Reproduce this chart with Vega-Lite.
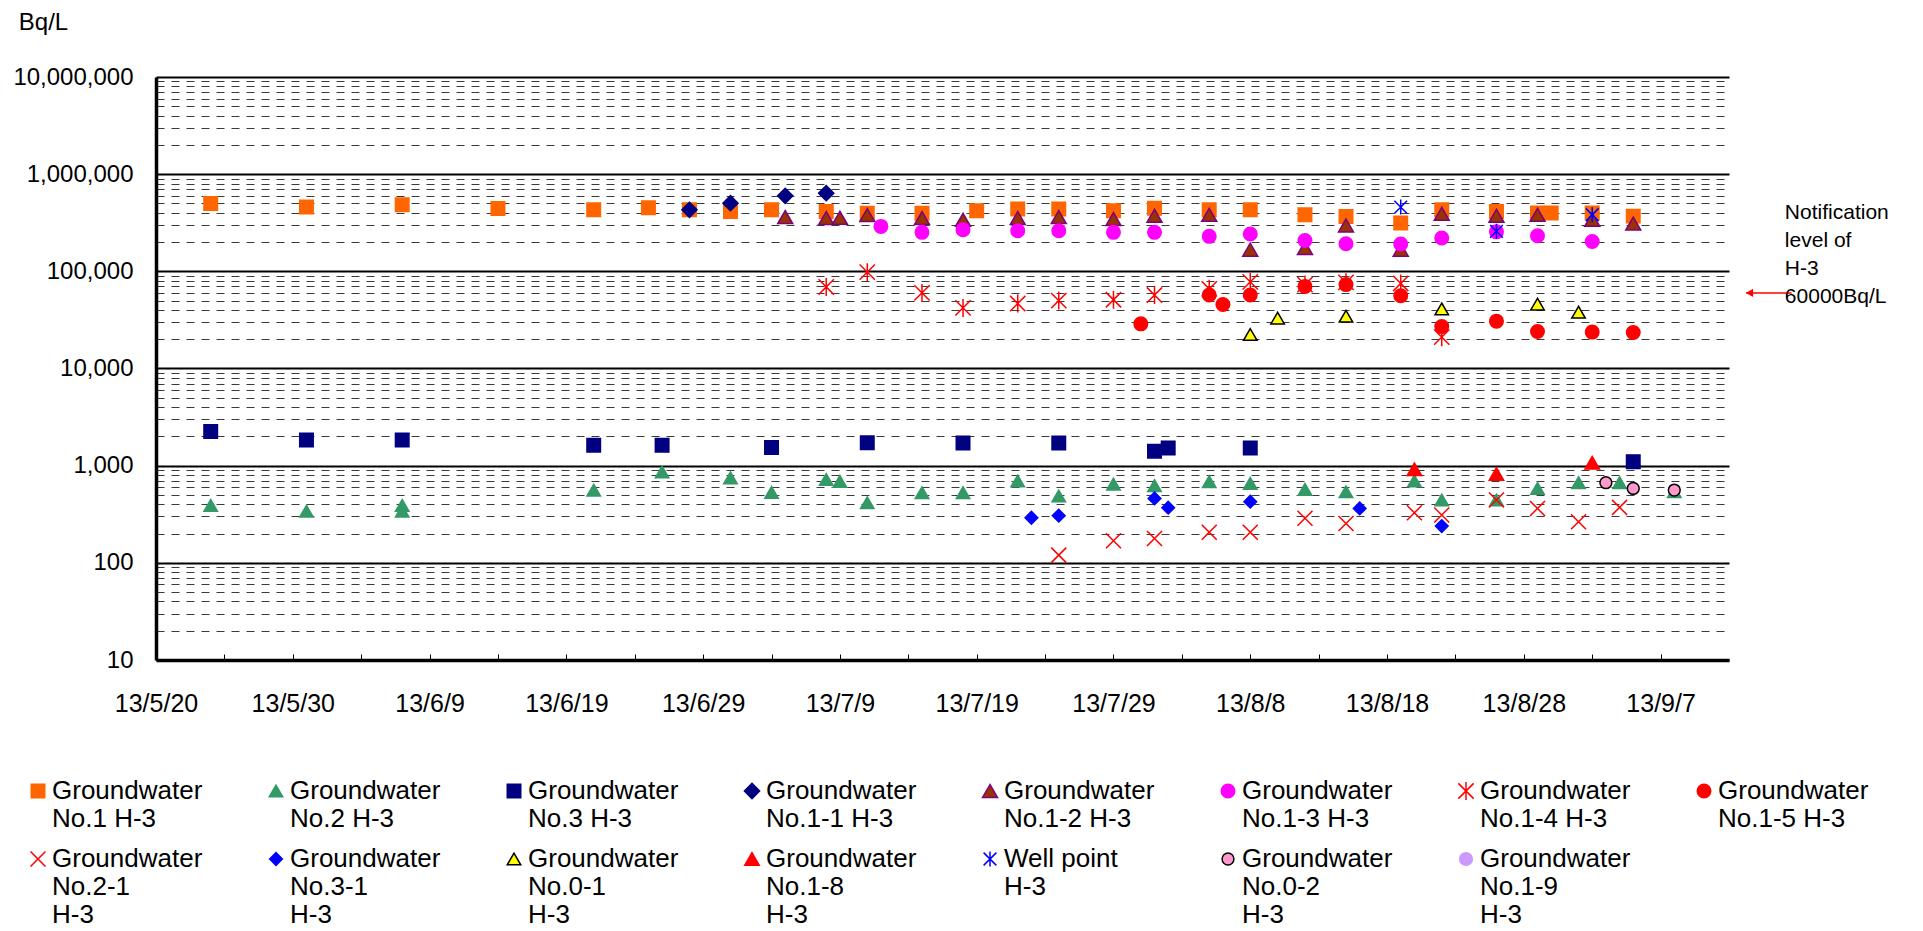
{
  "$schema": "https://vega.github.io/schema/vega-lite/v6.json",
  "width": 1573,
  "height": 583,
  "autosize": {"type": "none"},
  "padding": {"left": 156, "top": 77, "right": 194, "bottom": 271},
  "background": "white",
  "config": {
    "font": "Liberation Sans",
    "view": {"stroke": null},
    "style": {"guide-label": {"lineHeight": 28}}
  },
  "layer": [
    {
      "data": {
        "values": [
          {"s": "Groundwater|No.1 H-3", "d": "2013-05-24", "v": 499000},
          {"s": "Groundwater|No.1 H-3", "d": "2013-05-31", "v": 458000},
          {"s": "Groundwater|No.1 H-3", "d": "2013-06-07", "v": 484000},
          {"s": "Groundwater|No.1 H-3", "d": "2013-06-14", "v": 444000},
          {"s": "Groundwater|No.1 H-3", "d": "2013-06-21", "v": 430000},
          {"s": "Groundwater|No.1 H-3", "d": "2013-06-25", "v": 451000},
          {"s": "Groundwater|No.1 H-3", "d": "2013-06-28", "v": 430000},
          {"s": "Groundwater|No.1 H-3", "d": "2013-07-01", "v": 413000},
          {"s": "Groundwater|No.1 H-3", "d": "2013-07-04", "v": 430000},
          {"s": "Groundwater|No.1 H-3", "d": "2013-07-08", "v": 413000},
          {"s": "Groundwater|No.1 H-3", "d": "2013-07-11", "v": 397000},
          {"s": "Groundwater|No.1 H-3", "d": "2013-07-15", "v": 397000},
          {"s": "Groundwater|No.1 H-3", "d": "2013-07-19", "v": 420000},
          {"s": "Groundwater|No.1 H-3", "d": "2013-07-22", "v": 437000},
          {"s": "Groundwater|No.1 H-3", "d": "2013-07-25", "v": 437000},
          {"s": "Groundwater|No.1 H-3", "d": "2013-07-29", "v": 420000},
          {"s": "Groundwater|No.1 H-3", "d": "2013-08-01", "v": 447000},
          {"s": "Groundwater|No.1 H-3", "d": "2013-08-05", "v": 430000},
          {"s": "Groundwater|No.1 H-3", "d": "2013-08-08", "v": 430000},
          {"s": "Groundwater|No.1 H-3", "d": "2013-08-12", "v": 382000},
          {"s": "Groundwater|No.1 H-3", "d": "2013-08-15", "v": 367000},
          {"s": "Groundwater|No.1 H-3", "d": "2013-08-19", "v": 314000},
          {"s": "Groundwater|No.1 H-3", "d": "2013-08-22", "v": 430000},
          {"s": "Groundwater|No.1 H-3", "d": "2013-08-26", "v": 413000},
          {"s": "Groundwater|No.1 H-3", "d": "2013-08-29", "v": 398000},
          {"s": "Groundwater|No.1 H-3", "d": "2013-08-30", "v": 398000},
          {"s": "Groundwater|No.1 H-3", "d": "2013-09-02", "v": 398000},
          {"s": "Groundwater|No.1 H-3", "d": "2013-09-05", "v": 370000},

          {"s": "Groundwater|No.2 H-3", "d": "2013-05-24", "v": 390},
          {"s": "Groundwater|No.2 H-3", "d": "2013-05-31", "v": 340},
          {"s": "Groundwater|No.2 H-3", "d": "2013-06-07", "v": 340},
          {"s": "Groundwater|No.2 H-3", "d": "2013-06-07", "v": 390},
          {"s": "Groundwater|No.2 H-3", "d": "2013-06-21", "v": 560},
          {"s": "Groundwater|No.2 H-3", "d": "2013-06-26", "v": 860},
          {"s": "Groundwater|No.2 H-3", "d": "2013-07-01", "v": 750},
          {"s": "Groundwater|No.2 H-3", "d": "2013-07-04", "v": 530},
          {"s": "Groundwater|No.2 H-3", "d": "2013-07-08", "v": 720},
          {"s": "Groundwater|No.2 H-3", "d": "2013-07-09", "v": 690},
          {"s": "Groundwater|No.2 H-3", "d": "2013-07-11", "v": 415},
          {"s": "Groundwater|No.2 H-3", "d": "2013-07-15", "v": 527},
          {"s": "Groundwater|No.2 H-3", "d": "2013-07-18", "v": 527},
          {"s": "Groundwater|No.2 H-3", "d": "2013-07-22", "v": 695},
          {"s": "Groundwater|No.2 H-3", "d": "2013-07-25", "v": 487},
          {"s": "Groundwater|No.2 H-3", "d": "2013-07-29", "v": 647},
          {"s": "Groundwater|No.2 H-3", "d": "2013-08-01", "v": 622},
          {"s": "Groundwater|No.2 H-3", "d": "2013-08-05", "v": 684},
          {"s": "Groundwater|No.2 H-3", "d": "2013-08-08", "v": 658},
          {"s": "Groundwater|No.2 H-3", "d": "2013-08-12", "v": 570},
          {"s": "Groundwater|No.2 H-3", "d": "2013-08-15", "v": 539},
          {"s": "Groundwater|No.2 H-3", "d": "2013-08-20", "v": 695},
          {"s": "Groundwater|No.2 H-3", "d": "2013-08-22", "v": 443},
          {"s": "Groundwater|No.2 H-3", "d": "2013-08-26", "v": 443},
          {"s": "Groundwater|No.2 H-3", "d": "2013-08-29", "v": 583},
          {"s": "Groundwater|No.2 H-3", "d": "2013-09-01", "v": 668},
          {"s": "Groundwater|No.2 H-3", "d": "2013-09-04", "v": 668},
          {"s": "Groundwater|No.2 H-3", "d": "2013-09-08", "v": 540},

          {"s": "Groundwater|No.3 H-3", "d": "2013-05-24", "v": 2245},
          {"s": "Groundwater|No.3 H-3", "d": "2013-05-31", "v": 1840},
          {"s": "Groundwater|No.3 H-3", "d": "2013-06-07", "v": 1840},
          {"s": "Groundwater|No.3 H-3", "d": "2013-06-21", "v": 1620},
          {"s": "Groundwater|No.3 H-3", "d": "2013-06-26", "v": 1620},
          {"s": "Groundwater|No.3 H-3", "d": "2013-07-04", "v": 1540},
          {"s": "Groundwater|No.3 H-3", "d": "2013-07-11", "v": 1720},
          {"s": "Groundwater|No.3 H-3", "d": "2013-07-18", "v": 1710},
          {"s": "Groundwater|No.3 H-3", "d": "2013-07-25", "v": 1710},
          {"s": "Groundwater|No.3 H-3", "d": "2013-08-01", "v": 1410},
          {"s": "Groundwater|No.3 H-3", "d": "2013-08-02", "v": 1520},
          {"s": "Groundwater|No.3 H-3", "d": "2013-08-08", "v": 1520},
          {"s": "Groundwater|No.3 H-3", "d": "2013-09-05", "v": 1100},

          {"s": "Groundwater|No.1-1 H-3", "d": "2013-06-28", "v": 430000},
          {"s": "Groundwater|No.1-1 H-3", "d": "2013-07-01", "v": 503000},
          {"s": "Groundwater|No.1-1 H-3", "d": "2013-07-05", "v": 599000},
          {"s": "Groundwater|No.1-1 H-3", "d": "2013-07-08", "v": 638000},

          {"s": "Groundwater|No.1-2 H-3", "d": "2013-07-05", "v": 362000},
          {"s": "Groundwater|No.1-2 H-3", "d": "2013-07-08", "v": 353000},
          {"s": "Groundwater|No.1-2 H-3", "d": "2013-07-09", "v": 355000},
          {"s": "Groundwater|No.1-2 H-3", "d": "2013-07-11", "v": 380000},
          {"s": "Groundwater|No.1-2 H-3", "d": "2013-07-15", "v": 353000},
          {"s": "Groundwater|No.1-2 H-3", "d": "2013-07-18", "v": 339000},
          {"s": "Groundwater|No.1-2 H-3", "d": "2013-07-22", "v": 353000},
          {"s": "Groundwater|No.1-2 H-3", "d": "2013-07-25", "v": 362000},
          {"s": "Groundwater|No.1-2 H-3", "d": "2013-07-29", "v": 345000},
          {"s": "Groundwater|No.1-2 H-3", "d": "2013-08-01", "v": 373000},
          {"s": "Groundwater|No.1-2 H-3", "d": "2013-08-05", "v": 382000},
          {"s": "Groundwater|No.1-2 H-3", "d": "2013-08-08", "v": 167000},
          {"s": "Groundwater|No.1-2 H-3", "d": "2013-08-12", "v": 174000},
          {"s": "Groundwater|No.1-2 H-3", "d": "2013-08-15", "v": 297000},
          {"s": "Groundwater|No.1-2 H-3", "d": "2013-08-19", "v": 167000},
          {"s": "Groundwater|No.1-2 H-3", "d": "2013-08-22", "v": 391000},
          {"s": "Groundwater|No.1-2 H-3", "d": "2013-08-26", "v": 373000},
          {"s": "Groundwater|No.1-2 H-3", "d": "2013-08-29", "v": 382000},
          {"s": "Groundwater|No.1-2 H-3", "d": "2013-09-02", "v": 340000},
          {"s": "Groundwater|No.1-2 H-3", "d": "2013-09-05", "v": 310000},

          {"s": "Groundwater|No.1-3 H-3", "d": "2013-07-12", "v": 290000},
          {"s": "Groundwater|No.1-3 H-3", "d": "2013-07-15", "v": 252000},
          {"s": "Groundwater|No.1-3 H-3", "d": "2013-07-18", "v": 268000},
          {"s": "Groundwater|No.1-3 H-3", "d": "2013-07-22", "v": 262000},
          {"s": "Groundwater|No.1-3 H-3", "d": "2013-07-25", "v": 262000},
          {"s": "Groundwater|No.1-3 H-3", "d": "2013-07-29", "v": 252000},
          {"s": "Groundwater|No.1-3 H-3", "d": "2013-08-01", "v": 252000},
          {"s": "Groundwater|No.1-3 H-3", "d": "2013-08-05", "v": 229000},
          {"s": "Groundwater|No.1-3 H-3", "d": "2013-08-08", "v": 242000},
          {"s": "Groundwater|No.1-3 H-3", "d": "2013-08-12", "v": 208000},
          {"s": "Groundwater|No.1-3 H-3", "d": "2013-08-15", "v": 192000},
          {"s": "Groundwater|No.1-3 H-3", "d": "2013-08-19", "v": 191000},
          {"s": "Groundwater|No.1-3 H-3", "d": "2013-08-22", "v": 220000},
          {"s": "Groundwater|No.1-3 H-3", "d": "2013-08-26", "v": 255000},
          {"s": "Groundwater|No.1-3 H-3", "d": "2013-08-29", "v": 232000},
          {"s": "Groundwater|No.1-3 H-3", "d": "2013-09-02", "v": 203000},

          {"s": "Groundwater|No.1-4 H-3", "d": "2013-07-08", "v": 69000},
          {"s": "Groundwater|No.1-4 H-3", "d": "2013-07-11", "v": 98000},
          {"s": "Groundwater|No.1-4 H-3", "d": "2013-07-15", "v": 60000},
          {"s": "Groundwater|No.1-4 H-3", "d": "2013-07-18", "v": 42000},
          {"s": "Groundwater|No.1-4 H-3", "d": "2013-07-22", "v": 46600},
          {"s": "Groundwater|No.1-4 H-3", "d": "2013-07-25", "v": 50000},
          {"s": "Groundwater|No.1-4 H-3", "d": "2013-07-29", "v": 51000},
          {"s": "Groundwater|No.1-4 H-3", "d": "2013-08-01", "v": 57000},
          {"s": "Groundwater|No.1-4 H-3", "d": "2013-08-05", "v": 66000},
          {"s": "Groundwater|No.1-4 H-3", "d": "2013-08-08", "v": 78000},
          {"s": "Groundwater|No.1-4 H-3", "d": "2013-08-12", "v": 73000},
          {"s": "Groundwater|No.1-4 H-3", "d": "2013-08-15", "v": 77000},
          {"s": "Groundwater|No.1-4 H-3", "d": "2013-08-19", "v": 75000},
          {"s": "Groundwater|No.1-4 H-3", "d": "2013-08-22", "v": 21000},

          {"s": "Groundwater|No.1-5 H-3", "d": "2013-07-31", "v": 28800},
          {"s": "Groundwater|No.1-5 H-3", "d": "2013-08-05", "v": 57000},
          {"s": "Groundwater|No.1-5 H-3", "d": "2013-08-06", "v": 45500},
          {"s": "Groundwater|No.1-5 H-3", "d": "2013-08-08", "v": 57000},
          {"s": "Groundwater|No.1-5 H-3", "d": "2013-08-12", "v": 70000},
          {"s": "Groundwater|No.1-5 H-3", "d": "2013-08-15", "v": 73000},
          {"s": "Groundwater|No.1-5 H-3", "d": "2013-08-19", "v": 56000},
          {"s": "Groundwater|No.1-5 H-3", "d": "2013-08-22", "v": 27000},
          {"s": "Groundwater|No.1-5 H-3", "d": "2013-08-26", "v": 30700},
          {"s": "Groundwater|No.1-5 H-3", "d": "2013-08-29", "v": 24000},
          {"s": "Groundwater|No.1-5 H-3", "d": "2013-09-02", "v": 23700},
          {"s": "Groundwater|No.1-5 H-3", "d": "2013-09-05", "v": 23500},

          {"s": "Groundwater|No.2-1|H-3", "d": "2013-07-25", "v": 120},
          {"s": "Groundwater|No.2-1|H-3", "d": "2013-07-29", "v": 169},
          {"s": "Groundwater|No.2-1|H-3", "d": "2013-08-01", "v": 178},
          {"s": "Groundwater|No.2-1|H-3", "d": "2013-08-05", "v": 206},
          {"s": "Groundwater|No.2-1|H-3", "d": "2013-08-08", "v": 206},
          {"s": "Groundwater|No.2-1|H-3", "d": "2013-08-12", "v": 287},
          {"s": "Groundwater|No.2-1|H-3", "d": "2013-08-15", "v": 254},
          {"s": "Groundwater|No.2-1|H-3", "d": "2013-08-20", "v": 327},
          {"s": "Groundwater|No.2-1|H-3", "d": "2013-08-22", "v": 310},
          {"s": "Groundwater|No.2-1|H-3", "d": "2013-08-26", "v": 443},
          {"s": "Groundwater|No.2-1|H-3", "d": "2013-08-29", "v": 363},
          {"s": "Groundwater|No.2-1|H-3", "d": "2013-09-01", "v": 265},
          {"s": "Groundwater|No.2-1|H-3", "d": "2013-09-04", "v": 372},

          {"s": "Groundwater|No.3-1|H-3", "d": "2013-07-23", "v": 291},
          {"s": "Groundwater|No.3-1|H-3", "d": "2013-07-25", "v": 306},
          {"s": "Groundwater|No.3-1|H-3", "d": "2013-08-01", "v": 460},
          {"s": "Groundwater|No.3-1|H-3", "d": "2013-08-02", "v": 369},
          {"s": "Groundwater|No.3-1|H-3", "d": "2013-08-08", "v": 426},
          {"s": "Groundwater|No.3-1|H-3", "d": "2013-08-16", "v": 363},
          {"s": "Groundwater|No.3-1|H-3", "d": "2013-08-22", "v": 239},

          {"s": "Groundwater|No.0-1|H-3", "d": "2013-08-08", "v": 22400},
          {"s": "Groundwater|No.0-1|H-3", "d": "2013-08-10", "v": 33000},
          {"s": "Groundwater|No.0-1|H-3", "d": "2013-08-15", "v": 34500},
          {"s": "Groundwater|No.0-1|H-3", "d": "2013-08-22", "v": 41000},
          {"s": "Groundwater|No.0-1|H-3", "d": "2013-08-29", "v": 46000},
          {"s": "Groundwater|No.0-1|H-3", "d": "2013-09-01", "v": 38000},

          {"s": "Groundwater|No.1-8|H-3", "d": "2013-08-20", "v": 917},
          {"s": "Groundwater|No.1-8|H-3", "d": "2013-08-26", "v": 821},
          {"s": "Groundwater|No.1-8|H-3", "d": "2013-09-02", "v": 1074},

          {"s": "Well point|H-3", "d": "2013-08-19", "v": 458000},
          {"s": "Well point|H-3", "d": "2013-08-26", "v": 258000},
          {"s": "Well point|H-3", "d": "2013-09-02", "v": 382000},

          {"s": "Groundwater|No.0-2|H-3", "d": "2013-09-03", "v": 668},
          {"s": "Groundwater|No.0-2|H-3", "d": "2013-09-05", "v": 583},
          {"s": "Groundwater|No.0-2|H-3", "d": "2013-09-08", "v": 561}
        ]
      },
      "mark": {"type": "point", "filled": true, "opacity": 1, "strokeWidth": 1.5},
      "encoding": {
        "x": {
          "field": "d",
          "type": "temporal",
          "scale": {
            "type": "utc",
            "domain": [
              {"year": 2013, "month": 5, "date": 20, "utc": true},
              {"year": 2013, "month": 9, "date": 12, "utc": true}
            ]
          },
          "axis": {
            "title": null,
            "values": [
              {"year": 2013, "month": 5, "date": 20, "utc": true},
              {"year": 2013, "month": 5, "date": 25, "utc": true},
              {"year": 2013, "month": 5, "date": 30, "utc": true},
              {"year": 2013, "month": 6, "date": 4, "utc": true},
              {"year": 2013, "month": 6, "date": 9, "utc": true},
              {"year": 2013, "month": 6, "date": 14, "utc": true},
              {"year": 2013, "month": 6, "date": 19, "utc": true},
              {"year": 2013, "month": 6, "date": 24, "utc": true},
              {"year": 2013, "month": 6, "date": 29, "utc": true},
              {"year": 2013, "month": 7, "date": 4, "utc": true},
              {"year": 2013, "month": 7, "date": 9, "utc": true},
              {"year": 2013, "month": 7, "date": 14, "utc": true},
              {"year": 2013, "month": 7, "date": 19, "utc": true},
              {"year": 2013, "month": 7, "date": 24, "utc": true},
              {"year": 2013, "month": 7, "date": 29, "utc": true},
              {"year": 2013, "month": 8, "date": 3, "utc": true},
              {"year": 2013, "month": 8, "date": 8, "utc": true},
              {"year": 2013, "month": 8, "date": 13, "utc": true},
              {"year": 2013, "month": 8, "date": 18, "utc": true},
              {"year": 2013, "month": 8, "date": 23, "utc": true},
              {"year": 2013, "month": 8, "date": 28, "utc": true},
              {"year": 2013, "month": 9, "date": 2, "utc": true},
              {"year": 2013, "month": 9, "date": 7, "utc": true}
            ],
            "labelExpr": "round((datum.value - utc(2013, 4, 20)) / 86400000) % 10 == 0 ? utcFormat(datum.value, '%y/%-m/%-d') : ''",
            "grid": false,
            "domainColor": "#000000",
            "domainWidth": 3.5,
            "tickColor": "#000000",
            "tickWidth": 1,
            "tickSize": -6,
            "labelPadding": 37,
            "labelFontSize": 25,
            "labelColor": "#000000",
            "labelFont": "Liberation Sans",
            "labelFlush": false,
            "labelOverlap": false
          }
        },
        "y": {
          "field": "v",
          "type": "quantitative",
          "scale": {"type": "log", "domain": [10, 10000000]},
          "axis": {
            "title": "Bq/L",
            "titleAngle": 0,
            "titleX": -113,
            "titleY": -55,
            "titleAlign": "center",
            "titleBaseline": "middle",
            "titleFontSize": 24,
            "titleFontWeight": "normal",
            "titleColor": "#000000",
            "titleFont": "Liberation Sans",
            "values": [10,20,30,40,50,60,70,80,90,100,200,300,400,500,600,700,800,900,1000,2000,3000,4000,5000,6000,7000,8000,9000,10000,20000,30000,40000,50000,60000,70000,80000,90000,100000,200000,300000,400000,500000,600000,700000,800000,900000,1000000,2000000,3000000,4000000,5000000,6000000,7000000,8000000,9000000,10000000],
            "labelExpr": "indexof([10,100,1000,10000,100000,1000000,10000000], datum.value) >= 0 ? format(datum.value, ',') : ''",
            "ticks": false,
            "labelPadding": 23,
            "labelFontSize": 24,
            "labelColor": "#000000",
            "labelFont": "Liberation Sans",
            "labelOverlap": false,
            "labelFlush": false,
            "domainColor": "#000000",
            "domainWidth": 3.5,
            "grid": true,
            "gridColor": {"condition": {"test": "indexof([10,100,1000,10000,100000,1000000,10000000], datum.value) >= 0", "value": "#000000"}, "value": "#3a3a3a"},
            "gridWidth": {"condition": {"test": "indexof([10,100,1000,10000,100000,1000000,10000000], datum.value) >= 0", "value": 2.2}, "value": 1},
            "gridDash": {"condition": {"test": "indexof([10,100,1000,10000,100000,1000000,10000000], datum.value) >= 0", "value": []}, "value": [8, 7]},
            "gridOpacity": 1
          }
        },
        "shape": {
          "field": "s",
          "type": "nominal",
          "scale": {
            "domain": ["Groundwater|No.1 H-3", "Groundwater|No.2 H-3", "Groundwater|No.3 H-3", "Groundwater|No.1-1 H-3", "Groundwater|No.1-2 H-3", "Groundwater|No.1-3 H-3", "Groundwater|No.1-4 H-3", "Groundwater|No.1-5 H-3", "Groundwater|No.2-1|H-3", "Groundwater|No.3-1|H-3", "Groundwater|No.0-1|H-3", "Groundwater|No.1-8|H-3", "Well point|H-3", "Groundwater|No.0-2|H-3", "Groundwater|No.1-9|H-3"],
            "range": ["square", "triangle-up", "square", "diamond", "triangle-up", "circle", "M0,-1L0,1M-0.85,-0.85L0.85,0.85M-0.85,0.85L0.85,-0.85", "circle", "M-1,-1L1,1M-1,1L1,-1", "diamond", "triangle-up", "triangle-up", "M0,-1L0,1M-0.85,-0.85L0.85,0.85M-0.85,0.85L0.85,-0.85", "circle", "circle"]
          },
          "legend": {
            "title": null,
            "orient": "none",
            "direction": "horizontal",
            "legendX": -131,
            "legendY": 687,
            "columns": 8,
            "gridAlign": "all",
            "columnPadding": 60,
            "rowPadding": -22,
            "padding": 0,
            "labelFont": "Liberation Sans",
            "labelFontSize": 26,
            "labelColor": "#000000",
            "labelLimit": 400,
            "labelOffset": 1,
            "labelBaseline": "middle",
            "symbolOpacity": 1,
            "labelExpr": "split(datum.label, '|')"
          }
        },
        "fill": {
          "field": "s",
          "type": "nominal",
          "scale": {
            "domain": ["Groundwater|No.1 H-3", "Groundwater|No.2 H-3", "Groundwater|No.3 H-3", "Groundwater|No.1-1 H-3", "Groundwater|No.1-2 H-3", "Groundwater|No.1-3 H-3", "Groundwater|No.1-4 H-3", "Groundwater|No.1-5 H-3", "Groundwater|No.2-1|H-3", "Groundwater|No.3-1|H-3", "Groundwater|No.0-1|H-3", "Groundwater|No.1-8|H-3", "Well point|H-3", "Groundwater|No.0-2|H-3", "Groundwater|No.1-9|H-3"],
            "range": ["#FF6600", "#339966", "#000080", "#000080", "#993300", "#FF00FF", "#FF0000", "#FF0000", "#FF0000", "#0000FF", "#FFFF00", "#FF0000", "#0000FF", "#FF99CC", "#CC99FF"]
          }
        },
        "stroke": {
          "field": "s",
          "type": "nominal",
          "scale": {
            "domain": ["Groundwater|No.1 H-3", "Groundwater|No.2 H-3", "Groundwater|No.3 H-3", "Groundwater|No.1-1 H-3", "Groundwater|No.1-2 H-3", "Groundwater|No.1-3 H-3", "Groundwater|No.1-4 H-3", "Groundwater|No.1-5 H-3", "Groundwater|No.2-1|H-3", "Groundwater|No.3-1|H-3", "Groundwater|No.0-1|H-3", "Groundwater|No.1-8|H-3", "Well point|H-3", "Groundwater|No.0-2|H-3", "Groundwater|No.1-9|H-3"],
            "range": ["#FF6600", "#339966", "#000080", "#000080", "#800080", "#FF00FF", "#FF0000", "#FF0000", "#FF0000", "#0000FF", "#000000", "#FF0000", "#0000FF", "#000000", "#CC99FF"]
          }
        },
        "size": {
          "field": "s",
          "type": "nominal",
          "scale": {
            "type": "ordinal",
            "domain": ["Groundwater|No.1 H-3", "Groundwater|No.2 H-3", "Groundwater|No.3 H-3", "Groundwater|No.1-1 H-3", "Groundwater|No.1-2 H-3", "Groundwater|No.1-3 H-3", "Groundwater|No.1-4 H-3", "Groundwater|No.1-5 H-3", "Groundwater|No.2-1|H-3", "Groundwater|No.3-1|H-3", "Groundwater|No.0-1|H-3", "Groundwater|No.1-8|H-3", "Well point|H-3", "Groundwater|No.0-2|H-3", "Groundwater|No.1-9|H-3"],
            "range": [182, 182, 182, 230, 225, 182, 324, 182, 225, 160, 182, 210, 225, 140, 160]
          }
        }
      }
    },
    {
      "data": {"values": [{"d": "2013-09-16T14:00:00Z", "d2": "2013-09-13T06:00:00Z", "v": 60000}]},
      "mark": {"type": "rule", "color": "#FF0000", "strokeWidth": 1.5},
      "encoding": {
        "x": {"field": "d", "type": "temporal"},
        "x2": {"field": "d2"},
        "y": {"field": "v", "type": "quantitative"}
      }
    },
    {
      "data": {"values": [{"d": "2013-09-13T12:00:00Z", "v": 60000}]},
      "mark": {"type": "point", "shape": "triangle-left", "filled": true, "color": "#FF0000", "size": 70, "opacity": 1},
      "encoding": {
        "x": {"field": "d", "type": "temporal"},
        "y": {"field": "v", "type": "quantitative"}
      }
    },
    {
      "data": {"values": [{"d": "2013-09-16T02:00:00Z", "v": 60000, "t": "Notification|level of|H-3|60000Bq/L"}]},
      "mark": {"type": "text", "align": "left", "baseline": "middle", "dy": -80, "lineBreak": "|", "lineHeight": 28, "fontSize": 21, "font": "Liberation Sans", "color": "#000000"},
      "encoding": {
        "x": {"field": "d", "type": "temporal"},
        "y": {"field": "v", "type": "quantitative"},
        "text": {"field": "t", "type": "nominal"}
      }
    }
  ]
}
